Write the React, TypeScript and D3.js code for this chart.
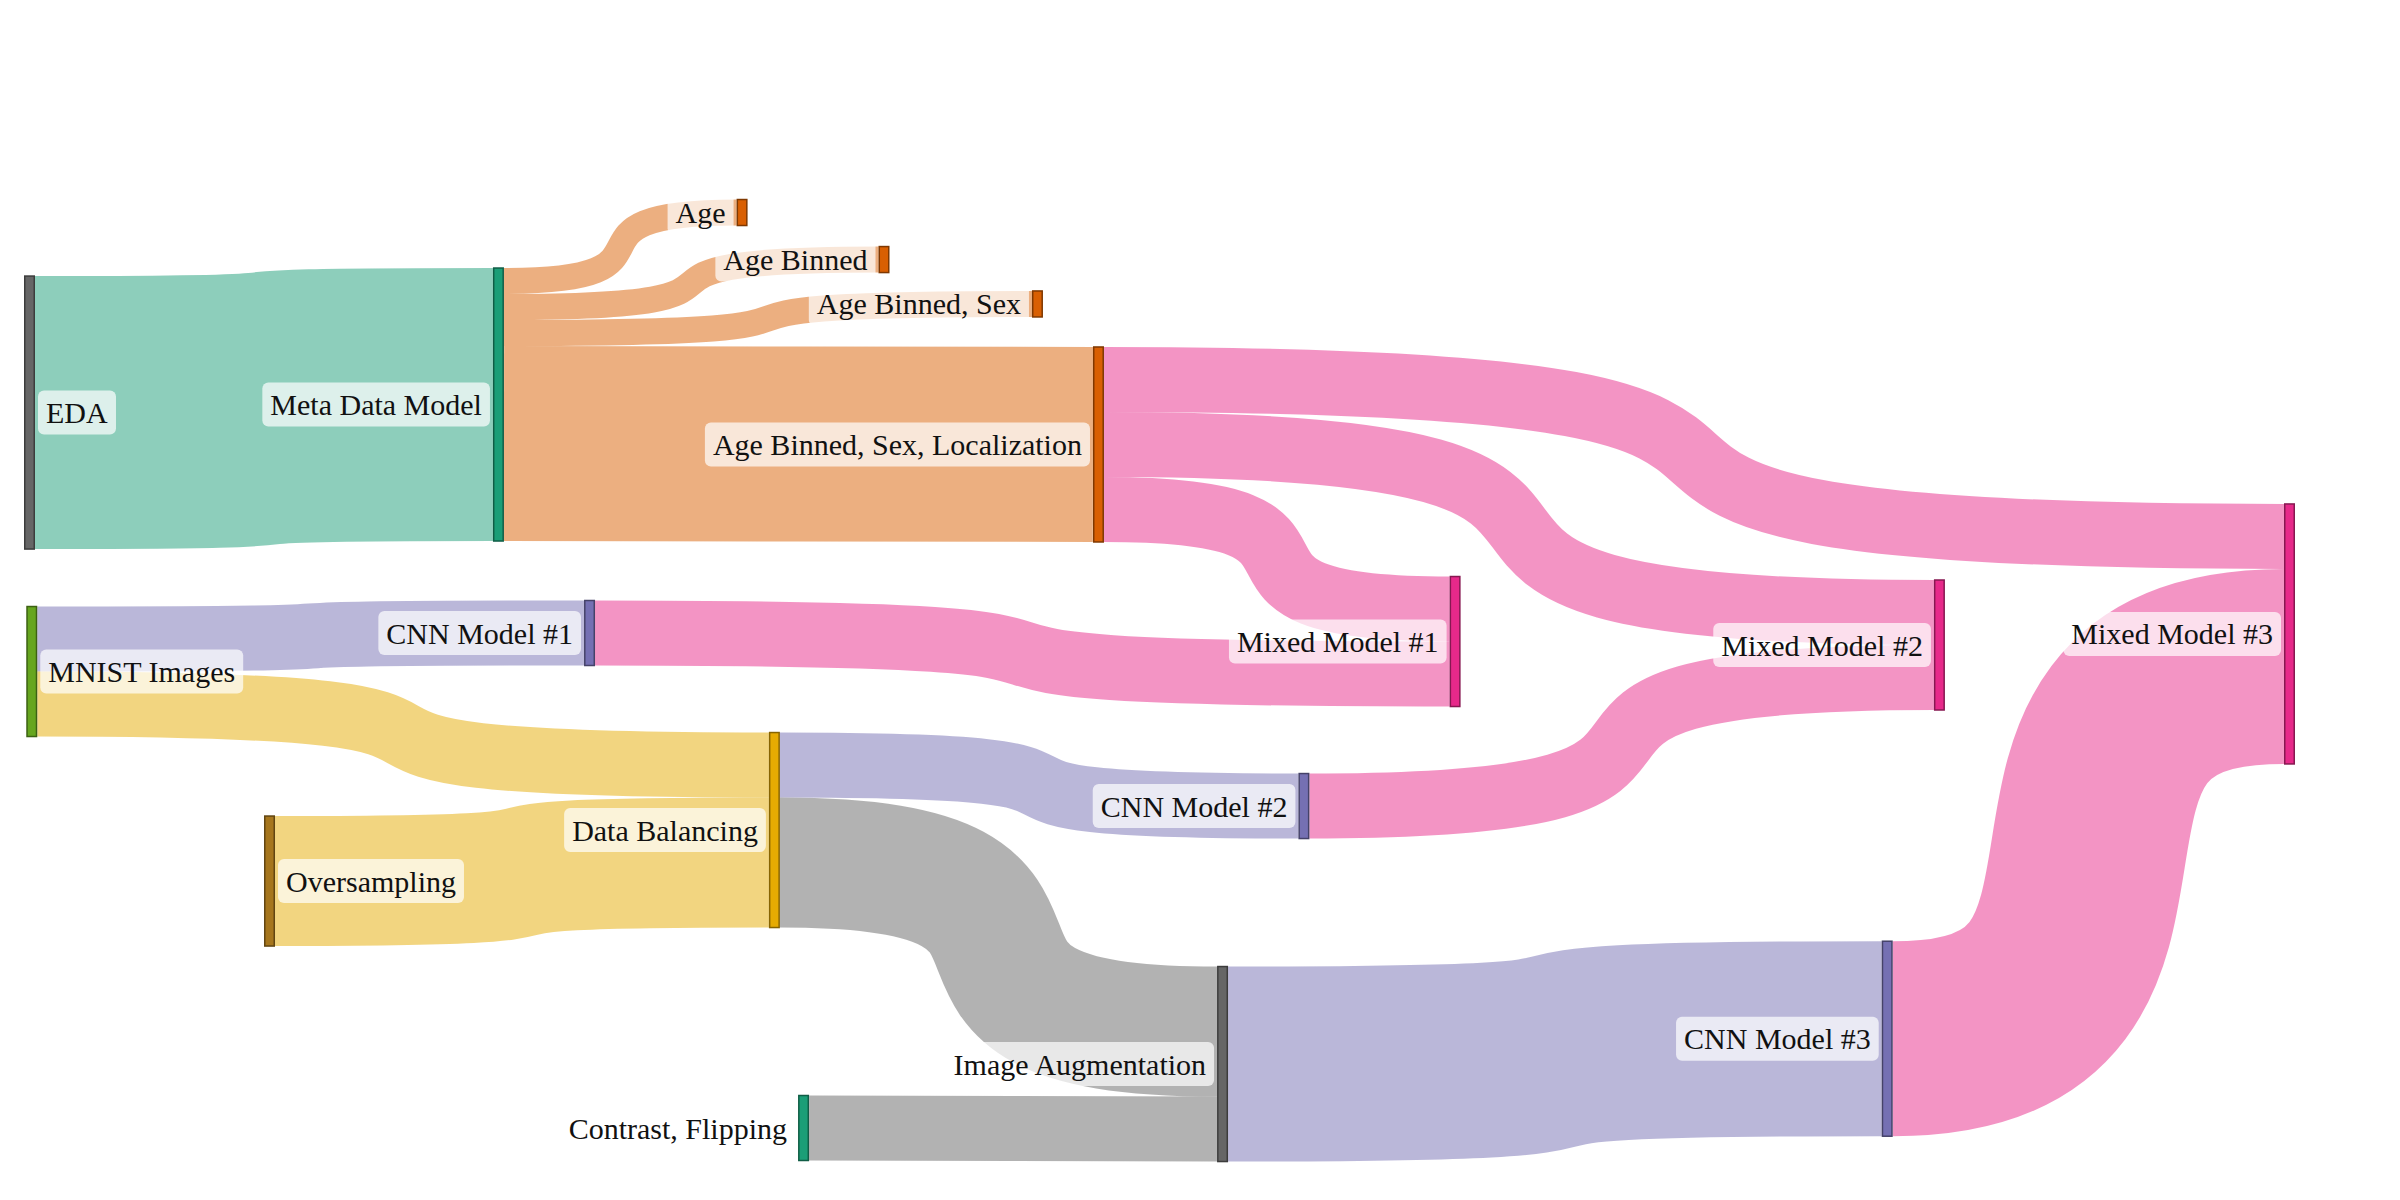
import React, { useEffect, useRef } from "react";
import * as d3 from "d3";

// Nodes of the pipeline
const nodeNames = [
  "EDA",
  "Meta Data Model",
  "Age",
  "Age Binned",
  "Age Binned, Sex",
  "Age Binned, Sex, Localization",
  "MNIST Images",
  "CNN Model #1",
  "Oversampling",
  "Data Balancing",
  "Contrast, Flipping",
  "CNN Model #2",
  "Image Augmentation",
  "Mixed Model #1",
  "Mixed Model #2",
  "CNN Model #3",
  "Mixed Model #3",
];

const nodeColors = [
  "#666666", "#1b9e77", "#d95f02", "#d95f02", "#d95f02", "#d95f02",
  "#66a61e", "#7570b3", "#a6761d", "#e6ab02", "#1b9e77", "#7570b3",
  "#666666", "#e7298a", "#e7298a", "#7570b3", "#e7298a",
];

// Fixed node placement (fractions, like plotly's node.x / node.y)
const nodeXFrac = [
  0.0, 0.2075, 0.3153, 0.3781, 0.446, 0.473, 0.001, 0.2478, 0.1062,
  0.3296, 0.3425, 0.5639, 0.5279, 0.6308, 0.8451, 0.822, 1.0,
];
const nodeYFrac = [
  0.3438, 0.3371, 0.1771, 0.2163, 0.2533, 0.3704, 0.5596, 0.5275, 0.7342,
  0.6917, 0.94, 0.6717, 0.8867, 0.5346, 0.5375, 0.8656, 0.5283,
];

// Links
const linkSources = [0, 1, 1, 1, 1, 5, 5, 5, 6, 6, 8, 7, 9, 9, 10, 11, 12, 15];
const linkTargets = [1, 2, 3, 4, 5, 16, 14, 13, 7, 9, 9, 13, 11, 12, 12, 14, 15, 16];
const linkValues = [29.4, 2.8, 2.8, 2.8, 21, 7, 7, 7, 7, 7, 14, 7, 7, 14, 7, 7, 21, 21];

const width = 2400;
const height = 1200;
const nodeWidth = 11;
const linkCurvature = 0.85;

const App = () => {
  const svgRef = useRef<SVGSVGElement>(null);

  useEffect(() => {
    const svg = d3.select(svgRef.current);
    svg.selectAll("*").remove();

    const x = d3.scaleLinear().domain([0, 1]).range([24, 2284]);
    const y = d3.scaleLinear().domain([0, 1]).range([0, height]);
    const thick = d3.scaleLinear().domain([0, 21]).range([0, 195]);

    // build nodes
    const nodes = nodeNames.map((name, i) => {
      let inSum = 0;
      let outSum = 0;
      linkValues.forEach((v, j) => {
        if (linkTargets[j] === i) inSum += v;
        if (linkSources[j] === i) outSum += v;
      });
      const h = thick(Math.max(inSum, outSum));
      const x0 = x(nodeXFrac[i]);
      const cy = y(nodeYFrac[i]);
      return {
        name,
        color: nodeColors[i],
        x0,
        x1: x0 + nodeWidth,
        y0: cy - h / 2,
        h,
        cy,
        hasIn: inSum > 0,
        outOff: 0,
        inOff: 0,
      };
    });

    // stack links on nodes in data order
    const links = linkValues.map((v, j) => {
      const s = nodes[linkSources[j]];
      const t = nodes[linkTargets[j]];
      const w = thick(v);
      const l = { s, t, w, y0: s.y0 + s.outOff + w / 2, y1: t.y0 + t.inOff + w / 2 };
      s.outOff += w;
      t.inOff += w;
      return l;
    });

    // centre line of a link, drawn as a thick stroke
    const linkPath = (l) => {
      const x0 = l.s.x1;
      const x1 = l.t.x0;
      const xi = d3.interpolateNumber(x0, x1);
      const x2 = xi(linkCurvature);
      const x3 = xi(1 - linkCurvature);
      return `M${x0},${l.y0}C${x2},${l.y0} ${x3},${l.y1} ${x1},${l.y1}`;
    };

    svg
      .append("g")
      .attr("fill", "none")
      .selectAll("path")
      .data(links)
      .join("path")
      .attr("d", linkPath)
      .attr("stroke", (d) => d.t.color)
      .attr("stroke-opacity", 0.5)
      .attr("stroke-width", (d) => d.w);

    svg
      .append("g")
      .selectAll("rect")
      .data(nodes)
      .join("rect")
      .attr("x", (d) => d.x0 + 0.75)
      .attr("y", (d) => d.y0)
      .attr("width", nodeWidth - 1.5)
      .attr("height", (d) => d.h)
      .attr("fill", (d) => d.color)
      .attr("stroke", (d) => d3.color(d.color).darker(1.5).formatHex())
      .attr("stroke-width", 1.5);

    // labels with a translucent rounded box
    const labels = svg
      .append("g")
      .attr("font-family", "'Liberation Serif', 'Times New Roman', serif")
      .attr("font-size", 30)
      .selectAll("g")
      .data(nodes)
      .join("g");

    labels.each(function (d) {
      const g = d3.select(this);
      const right = !d.hasIn && d.x0 < x(0.2);
      const box = g.append("rect");
      const text = g
        .append("text")
        .attr("x", right ? d.x1 + 11 : d.x0 - 11)
        .attr("y", d.cy)
        .attr("dy", "0.35em")
        .attr("text-anchor", right ? "start" : "end")
        .attr("fill", "#111")
        .text(d.name);
      const bb = (text.node() as SVGTextElement).getBBox();
      box
        .attr("x", bb.x - 8)
        .attr("y", d.cy - 22)
        .attr("width", bb.width + 16)
        .attr("height", 44)
        .attr("rx", 6)
        .attr("fill", "#fff")
        .attr("fill-opacity", 0.7);
    });
  }, []);

  return (
    <svg
      ref={svgRef}
      width={width}
      height={height}
      style={{ position: "absolute", left: 0, top: 0, background: "#fff" }}
    />
  );
};

export default App;
